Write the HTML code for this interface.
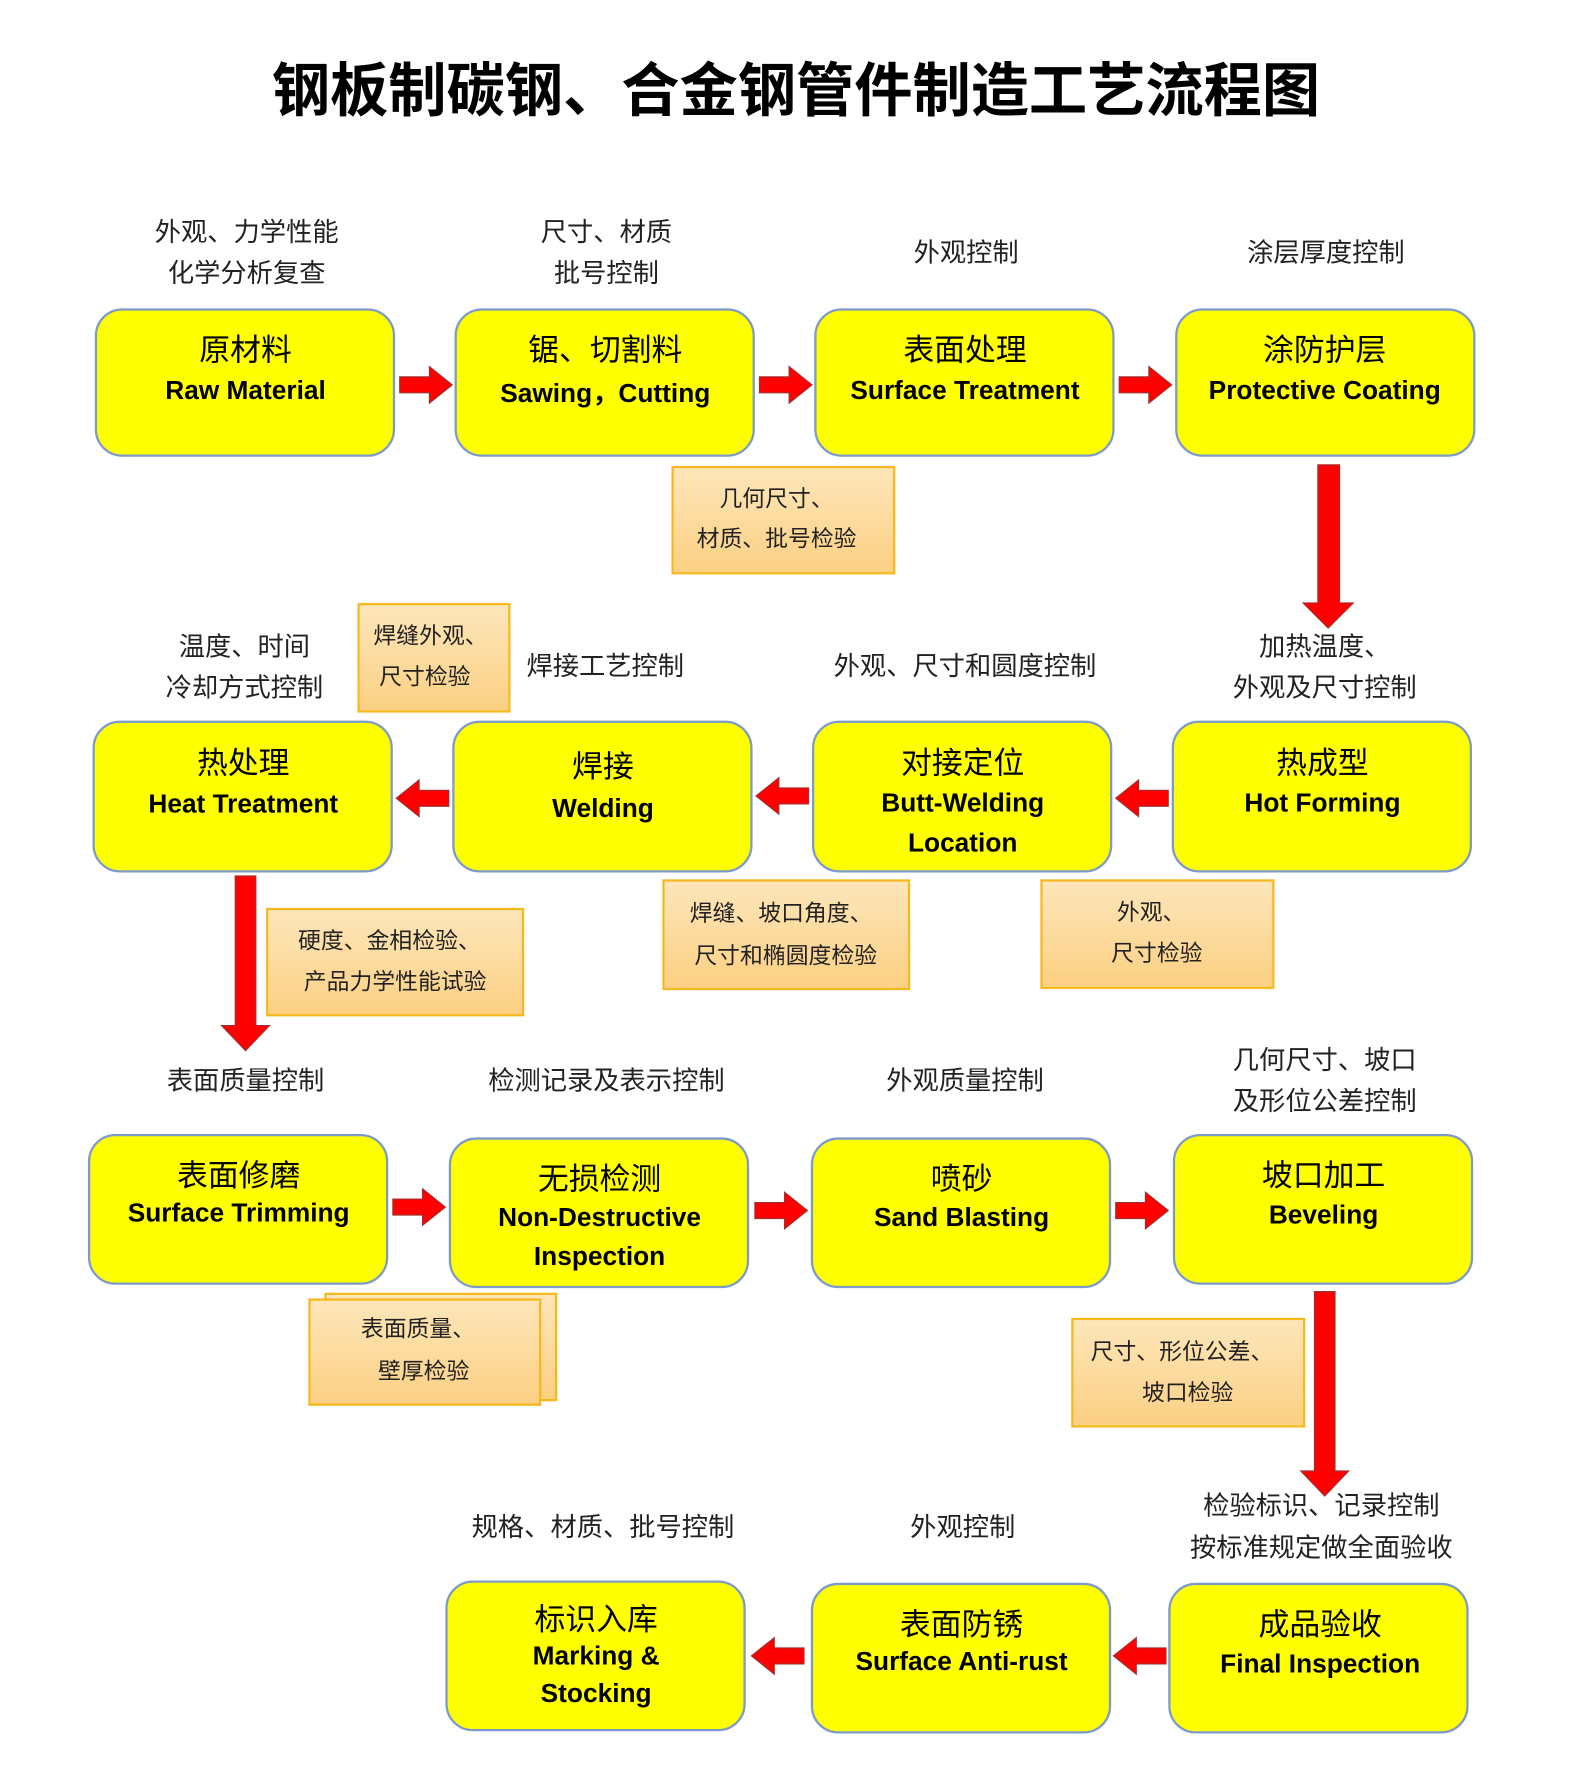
<!DOCTYPE html>
<html><head><meta charset="utf-8"><style>
html,body{margin:0;padding:0;background:#fff;}
body{width:1587px;height:1788px;overflow:hidden;position:relative;}
#w{position:absolute;left:0;top:0;width:1390px;height:1566px;transform:scale(1.142);transform-origin:0 0;font-family:"Liberation Sans","Noto Sans CJK SC",sans-serif;}
.t{position:absolute;white-space:nowrap;transform:translate(-50%,-50%);}
.title{font-size:51px;font-weight:bold;color:#000;font-family:"Noto Sans CJK SC","WenQuanYi Zen Hei",sans-serif;}
.lb{font-size:23px;color:#222;}
.box{position:absolute;width:263px;height:130px;background:#ffff00;border:2px solid #7d9bc9;border-radius:24px;box-sizing:border-box;}
.cn{font-size:27px;color:#000;}
.en{font-size:23px;font-weight:bold;color:#000;}
.note{position:absolute;box-sizing:border-box;border:2px solid #f6b81c;background:linear-gradient(#fde6ba,#fcd083);}
.nt{font-size:20px;color:#222;}
svg{position:absolute;left:0;top:0;}
</style></head><body><div id="w">
<div class="t title" style="left:697px;top:75px">钢板制碳钢、合金钢管件制造工艺流程图</div>

<div class="t lb" style="left:216px;top:201px">外观、力学性能</div>
<div class="t lb" style="left:216px;top:237px">化学分析复查</div>
<div class="t lb" style="left:531px;top:201px">尺寸、材质</div>
<div class="t lb" style="left:531px;top:237px">批号控制</div>
<div class="t lb" style="left:846px;top:219px">外观控制</div>
<div class="t lb" style="left:1161px;top:219px">涂层厚度控制</div>

<div class="box" style="left:83px;top:270px"></div>
<div class="box" style="left:398px;top:270px"></div>
<div class="box" style="left:713px;top:270px"></div>
<div class="box" style="left:1029px;top:270px"></div>
<div class="t cn" style="left:215px;top:304px">原材料</div>
<div class="t en" style="left:215px;top:342px">Raw Material</div>
<div class="t cn" style="left:530px;top:304px">锯、切割料</div>
<div class="t en" style="left:530px;top:342px">Sawing，Cutting</div>
<div class="t cn" style="left:845px;top:304px">表面处理</div>
<div class="t en" style="left:845px;top:342px">Surface Treatment</div>
<div class="t cn" style="left:1160px;top:304px">涂防护层</div>
<div class="t en" style="left:1160px;top:342px">Protective Coating</div>

<div class="note" style="left:588px;top:408px;width:196px;height:95px"></div>
<div class="t nt" style="left:680px;top:435px">几何尺寸、</div>
<div class="t nt" style="left:680px;top:470px">材质、批号检验</div>

<div class="t lb" style="left:214px;top:564px">温度、时间</div>
<div class="t lb" style="left:214px;top:600px">冷却方式控制</div>
<div class="note" style="left:313px;top:528px;width:134px;height:96px"></div>
<div class="t nt" style="left:377px;top:555px">焊缝外观、</div>
<div class="t nt" style="left:372px;top:591px">尺寸检验</div>
<div class="t lb" style="left:530px;top:581px">焊接工艺控制</div>
<div class="t lb" style="left:845px;top:581px">外观、尺寸和圆度控制</div>
<div class="t lb" style="left:1160px;top:564px">加热温度、</div>
<div class="t lb" style="left:1160px;top:600px">外观及尺寸控制</div>

<div class="box" style="left:81px;top:631px;height:133px"></div>
<div class="box" style="left:396px;top:631px;height:133px"></div>
<div class="box" style="left:711px;top:631px;height:133px"></div>
<div class="box" style="left:1026px;top:631px;height:133px"></div>
<div class="t cn" style="left:213px;top:666px">热处理</div>
<div class="t en" style="left:213px;top:704px">Heat Treatment</div>
<div class="t cn" style="left:528px;top:669px">焊接</div>
<div class="t en" style="left:528px;top:708px">Welding</div>
<div class="t cn" style="left:843px;top:666px">对接定位</div>
<div class="t en" style="left:843px;top:703px">Butt-Welding</div>
<div class="t en" style="left:843px;top:738px">Location</div>
<div class="t cn" style="left:1158px;top:666px">热成型</div>
<div class="t en" style="left:1158px;top:703px">Hot Forming</div>

<div class="note" style="left:233px;top:795px;width:226px;height:95px"></div>
<div class="t nt" style="left:341px;top:822px">硬度、金相检验、</div>
<div class="t nt" style="left:346px;top:858px">产品力学性能试验</div>
<div class="note" style="left:580px;top:770px;width:217px;height:97px"></div>
<div class="t nt" style="left:684px;top:798px">焊缝、坡口角度、</div>
<div class="t nt" style="left:688px;top:835px">尺寸和椭圆度检验</div>
<div class="note" style="left:911px;top:770px;width:205px;height:96px"></div>
<div class="t nt" style="left:1008px;top:797px">外观、</div>
<div class="t nt" style="left:1013px;top:833px">尺寸检验</div>

<div class="t lb" style="left:215px;top:944px">表面质量控制</div>
<div class="t lb" style="left:531px;top:944px">检测记录及表示控制</div>
<div class="t lb" style="left:845px;top:944px">外观质量控制</div>
<div class="t lb" style="left:1160px;top:926px">几何尺寸、坡口</div>
<div class="t lb" style="left:1160px;top:962px">及形位公差控制</div>

<div class="box" style="left:77px;top:993px;height:132px"></div>
<div class="box" style="left:393px;top:996px;height:132px"></div>
<div class="box" style="left:710px;top:996px;height:132px"></div>
<div class="box" style="left:1027px;top:993px;height:132px"></div>
<div class="t cn" style="left:209px;top:1027px">表面修磨</div>
<div class="t en" style="left:209px;top:1062px">Surface Trimming</div>
<div class="t cn" style="left:525px;top:1030px">无损检测</div>
<div class="t en" style="left:525px;top:1066px">Non-Destructive</div>
<div class="t en" style="left:525px;top:1100px">Inspection</div>
<div class="t cn" style="left:842px;top:1030px">喷砂</div>
<div class="t en" style="left:842px;top:1066px">Sand Blasting</div>
<div class="t cn" style="left:1159px;top:1027px">坡口加工</div>
<div class="t en" style="left:1159px;top:1064px">Beveling</div>

<div class="note" style="left:284px;top:1132px;width:204px;height:95px"></div>
<div class="note" style="left:270px;top:1137px;width:204px;height:94px"></div>
<div class="t nt" style="left:366px;top:1162px">表面质量、</div>
<div class="t nt" style="left:371px;top:1199px">壁厚检验</div>
<div class="note" style="left:938px;top:1154px;width:205px;height:96px"></div>
<div class="t nt" style="left:1035px;top:1182px">尺寸、形位公差、</div>
<div class="t nt" style="left:1040px;top:1218px">坡口检验</div>

<div class="t lb" style="left:528px;top:1335px">规格、材质、批号控制</div>
<div class="t lb" style="left:843px;top:1335px">外观控制</div>
<div class="t lb" style="left:1157px;top:1316px">检验标识、记录控制</div>
<div class="t lb" style="left:1157px;top:1353px">按标准规定做全面验收</div>

<div class="box" style="left:390px;top:1384px;height:132px"></div>
<div class="box" style="left:710px;top:1386px;height:132px"></div>
<div class="box" style="left:1023px;top:1386px;height:132px"></div>
<div class="t cn" style="left:522px;top:1416px">标识入库</div>
<div class="t en" style="left:522px;top:1450px">Marking &amp;</div>
<div class="t en" style="left:522px;top:1483px">Stocking</div>
<div class="t cn" style="left:842px;top:1420px">表面防锈</div>
<div class="t en" style="left:842px;top:1455px">Surface Anti-rust</div>
<div class="t cn" style="left:1156px;top:1420px">成品验收</div>
<div class="t en" style="left:1156px;top:1457px">Final Inspection</div>

<svg width="1390" height="1566" viewBox="0 0 1390 1566">
<defs>
<g id="ar"><path d="M0,-7 L26,-7 L26,-16 L46,0 L26,16 L26,7 L0,7 Z" fill="#ff0000" stroke="#a03030" stroke-width="1"/></g>
</defs>
<use href="#ar" transform="translate(350,337)"/>
<use href="#ar" transform="translate(665,337)"/>
<use href="#ar" transform="translate(980,337)"/>
<use href="#ar" transform="translate(393,699) scale(-1,1)"/>
<use href="#ar" transform="translate(708,697) scale(-1,1)"/>
<use href="#ar" transform="translate(1023,699) scale(-1,1)"/>
<use href="#ar" transform="translate(344,1057)"/>
<use href="#ar" transform="translate(661,1060)"/>
<use href="#ar" transform="translate(977,1060)"/>
<use href="#ar" transform="translate(704,1450) scale(-1,1)"/>
<use href="#ar" transform="translate(1021,1450) scale(-1,1)"/>
<path d="M1154,407 L1173,407 L1173,528 L1185,528 L1163,550 L1141,528 L1154,528 Z" fill="#ff0000" stroke="#a03030" stroke-width="1"/>
<path d="M206,767 L224,767 L224,898 L236,898 L215,920 L194,898 L206,898 Z" fill="#ff0000" stroke="#a03030" stroke-width="1"/>
<path d="M1151,1131 L1169,1131 L1169,1288 L1181,1288 L1160,1310 L1139,1288 L1151,1288 Z" fill="#ff0000" stroke="#a03030" stroke-width="1"/>
</svg>
</div></body></html>
